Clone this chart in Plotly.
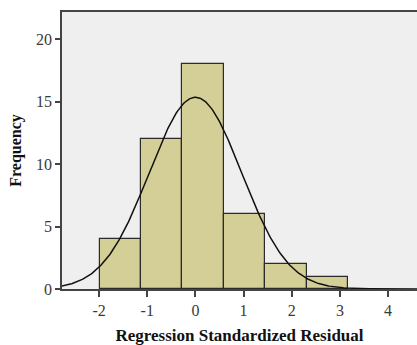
import numpy as np
import plotly.graph_objects as go

# Histogram data
bin_edges = [-1.98, -1.12, -0.27, 0.59, 1.45, 2.31, 3.17]
frequencies = [4, 12, 18, 6, 2, 1]

# Normal curve parameters (SPSS-style fitted curve)
curve_mean = 0.0
curve_std = 0.96
n_total = sum(frequencies)

x_ticks = [-2, -1, 0, 1, 2, 3, 4]
y_ticks = [0, 5, 10, 15, 20]

edges = np.array(bin_edges)
centers = (edges[:-1] + edges[1:]) / 2
widths = edges[1:] - edges[:-1]
bw = float(np.mean(widths))

xc = np.linspace(-2.8, 4.7, 400)
yc = n_total * bw / (curve_std * np.sqrt(2 * np.pi)) * np.exp(-0.5 * ((xc - curve_mean) / curve_std) ** 2)

fig = go.Figure()
fig.add_trace(go.Bar(
    x=centers, y=frequencies, width=widths,
    marker=dict(color="#D4CF96", line=dict(color="#2b2b2b", width=1.2)),
    hoverinfo="skip",
))
fig.add_trace(go.Scatter(
    x=xc, y=yc, mode="lines",
    line=dict(color="#111111", width=1.5), hoverinfo="skip",
))

font_family = "Liberation Serif"
fig.update_layout(
    width=417, height=345,
    margin=dict(l=62, r=0, t=12, b=56),
    paper_bgcolor="white", plot_bgcolor="#EFEFEF",
    showlegend=False, bargap=0,
    font=dict(family=font_family, size=16, color="#222222"),
    xaxis=dict(
        range=[-2.77, 4.6], tickvals=x_ticks, ticktext=[str(v) for v in x_ticks],
        showgrid=False, zeroline=False,
        showline=True, linecolor="#444444", linewidth=1.5, mirror=True,
        ticks="outside", ticklen=6, tickcolor="#444444", tickwidth=1.5,
        tickfont=dict(family=font_family, size=16, color="#3a3a3a"),
        title=dict(text="<b>Regression Standardized Residual</b>",
                   font=dict(family=font_family, size=17, color="#111111"), standoff=12),
    ),
    yaxis=dict(
        range=[0, 22.16], tickvals=y_ticks, ticktext=[str(v) for v in y_ticks],
        showgrid=False, zeroline=False,
        showline=True, linecolor="#444444", linewidth=1.5, mirror=False,
        ticks="outside", ticklen=5, tickcolor="#444444", tickwidth=1.5,
        tickfont=dict(family=font_family, size=16, color="#3a3a3a"),
        title=dict(text="<b>Frequency</b>",
                   font=dict(family=font_family, size=16, color="#111111"), standoff=10),
    ),
)
fig.write_html("out.html")
